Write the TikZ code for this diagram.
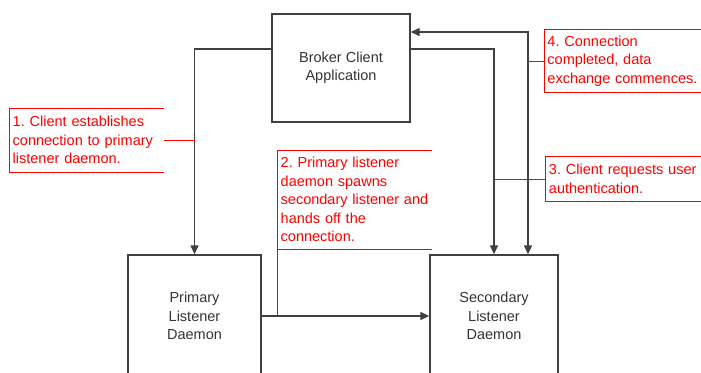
\documentclass[tikz,border=0pt]{standalone}
\usepackage{fontspec}
\setmainfont{Liberation Sans}
\usepackage{tikz}
\usetikzlibrary{arrows.meta,calc,positioning}
\frenchspacing

\begin{document}
\begin{tikzpicture}[x=1pt, y=-1pt,
    font=\fontsize{14.5}{18.5}\selectfont,
    >={Triangle[length=9pt,width=8pt]},
    block/.style={draw=black!75, line width=1.4pt, text=black!80, align=center},
    link/.style={draw=black!75, line width=1.4pt},
    note/.style={text=red, align=left, anchor=north west, inner xsep=3.5pt, inner ysep=0pt},
    leader/.style={draw=red, line width=0.9pt}]

\clip (0,0) rectangle (701,372);

% ---- Three processes ----
\node[block, minimum width=138pt, minimum height=108pt] (broker) at (341,68)
  {Broker Client\\Application};
\node[block, minimum width=133pt, minimum height=122pt] (prim) at (194.5,316)
  {Primary\\Listener\\Daemon};
\node[block, minimum width=128pt, minimum height=122pt] (sec) at (494,316)
  {Secondary\\Listener\\Daemon};

% ---- Connections ----
\draw[link, ->] ([yshift=19pt]broker.west) -| (prim.north);
\draw[link, ->] (prim.east) -- (sec.west);
\draw[link, ->] ([yshift=19pt]broker.east) -| (sec.north);
\coordinate (hop) at ([xshift=34pt]sec.north);
\draw[link, <->] (hop) |- ([yshift=36pt]broker.east);

% ---- Step notes ----
\node[note, text width=148pt, minimum height=64pt] (n1) at (9,108)
  {1. Client establishes\\connection to primary\\listener daemon.};
\node[note, text width=148pt, minimum height=99pt] (n2) at (277,150)
  {2. Primary listener\\daemon spawns\\secondary listener and\\hands off the\\connection.};
\node[note, draw=red, line width=0.9pt, text width=190pt, minimum height=45pt] (n3) at (545,156)
  {3. Client requests user\\authentication.};
\node[note, draw=red, line width=0.9pt, text width=190pt, minimum height=63pt, inner xsep=3pt] (n4) at (544,29)
  {4. Connection\\completed, data\\exchange commences.};

% brackets round the first two notes
\draw[leader] (n1.north east) -| (n1.south west) -- (n1.south east);
\draw[leader] (n2.north east) -| (n2.south west) -- (n2.south east);

% ---- Leaders to the connections ----
\draw[leader] (n1.east) -- (n1.east -| prim.north);
\draw[leader] (n2.south west) -- (n2.west |- prim.east);
\draw[leader] (n3.west -| sec.north) -- (n3.west);
\draw[leader] (n4.west -| hop) -- (n4.west);

\end{tikzpicture}
\end{document}
